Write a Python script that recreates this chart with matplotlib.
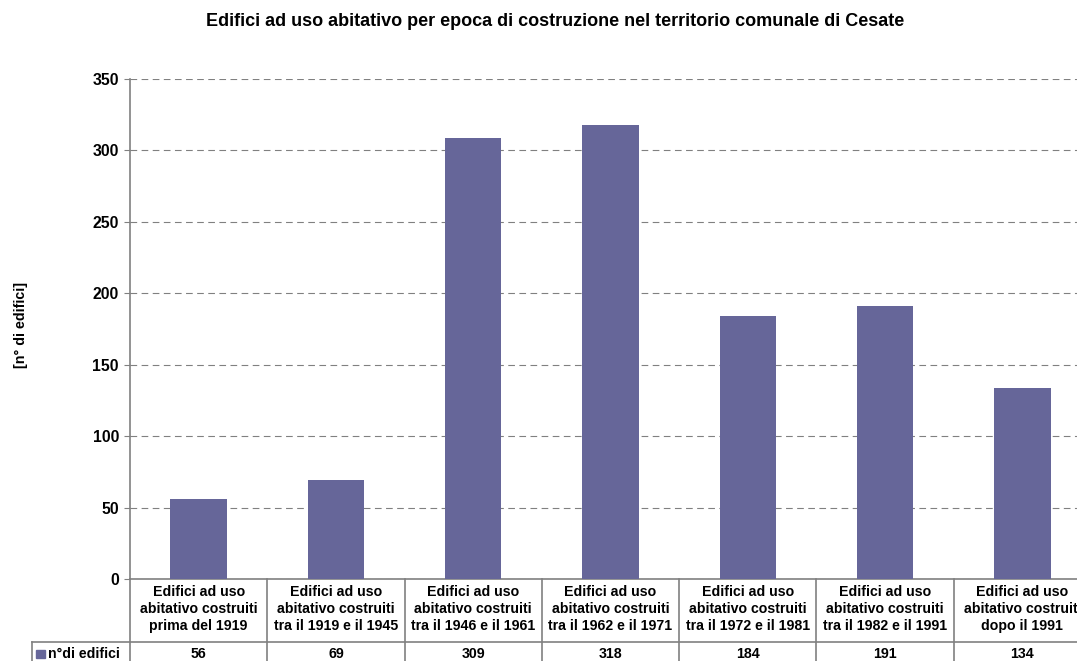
import matplotlib.pyplot as plt
from matplotlib.patches import Rectangle

plt.rcParams['font.family'] = ['Liberation Sans', 'DejaVu Sans']
plt.rcParams['font.weight'] = 'bold'

categories = [
    "Edifici ad uso\nabitativo costruiti\nprima del 1919",
    "Edifici ad uso\nabitativo costruiti\ntra il 1919 e il 1945",
    "Edifici ad uso\nabitativo costruiti\ntra il 1946 e il 1961",
    "Edifici ad uso\nabitativo costruiti\ntra il 1962 e il 1971",
    "Edifici ad uso\nabitativo costruiti\ntra il 1972 e il 1981",
    "Edifici ad uso\nabitativo costruiti\ntra il 1982 e il 1991",
    "Edifici ad uso\nabitativo costruiti\ndopo il 1991",
]
values = [56, 69, 309, 318, 184, 191, 134]
series_name = "n°di edifici"
yticks = [0, 50, 100, 150, 200, 250, 300, 350]

bar_color = "#666699"
line_color = "#808080"

fig = plt.figure(figsize=(10.77, 6.61), dpi=100)
W, H = 1077, 661
AW, AH = 961, 500
ax = fig.add_axes([130 / W, (H - 579) / H, AW / W, AH / H])

x = range(len(values))
ax.bar(x, values, width=0.41, color=bar_color, zorder=3)

ax.set_xlim(-0.5, len(values) - 0.5)
ax.set_ylim(0, 350)
ax.set_yticks(yticks)
ax.set_yticklabels([str(t) for t in yticks], fontsize=11.4, fontweight='bold')
ax.set_xticks([])
ax.yaxis.grid(True, linestyle=(0, (6, 4)), color="#808080", linewidth=0.8)
ax.tick_params(axis='y', length=4, color=line_color, pad=4)
for side in ['top', 'right']:
    ax.spines[side].set_visible(False)
for side in ['left', 'bottom']:
    ax.spines[side].set_color(line_color)
    ax.spines[side].set_linewidth(1.2)

# y label and title placed in figure coordinates
fig.text(21 / W, 1 - 325 / H, "[n° di edifici]", rotation=90, ha='center', va='center',
         fontsize=10.3, fontweight='bold')
fig.text(555 / W, 1 - 21 / H, "Edifici ad uso abitativo per epoca di costruzione nel territorio comunale di Cesate",
         ha='center', va='center', fontsize=13, fontweight='bold')

# data table under the axis
y_row = -(642 - 579) / AH
y_bot = -(661 - 579) / AH
y_cat = -(609 - 579) / AH
y_val = -(654 - 579) / AH
xform = ax.get_xaxis_transform()
for i in range(len(values) + 1):
    ax.plot([i - 0.5, i - 0.5], [0, y_bot], transform=xform, color=line_color,
            linewidth=1.2, clip_on=False)
leg_left = (32 - 130) / AW
ax.plot([leg_left, 1], [y_row, y_row], transform=ax.transAxes, color=line_color,
        linewidth=1.2, clip_on=False)
ax.plot([leg_left, leg_left], [y_row, y_bot], transform=ax.transAxes, color=line_color,
        linewidth=1.2, clip_on=False)

for i, (cat, v) in enumerate(zip(categories, values)):
    ax.text(i, y_cat, cat, transform=xform, ha='center', va='center',
            fontsize=10.2, fontweight='bold', linespacing=1.27, clip_on=False)
    ax.text(i, y_val, str(v), transform=xform, ha='center', va='center',
            fontsize=10.2, fontweight='bold', clip_on=False)

ax.add_patch(Rectangle((leg_left + 4 / AW, y_val - 4 / AH), 9 / AW, 8 / AH,
                       transform=ax.transAxes, color=bar_color, clip_on=False))
ax.text(leg_left + 16 / AW, y_val, series_name, transform=ax.transAxes,
        ha='left', va='center', fontsize=10.2, fontweight='bold', clip_on=False)

fig.savefig("out.png", dpi=100)
